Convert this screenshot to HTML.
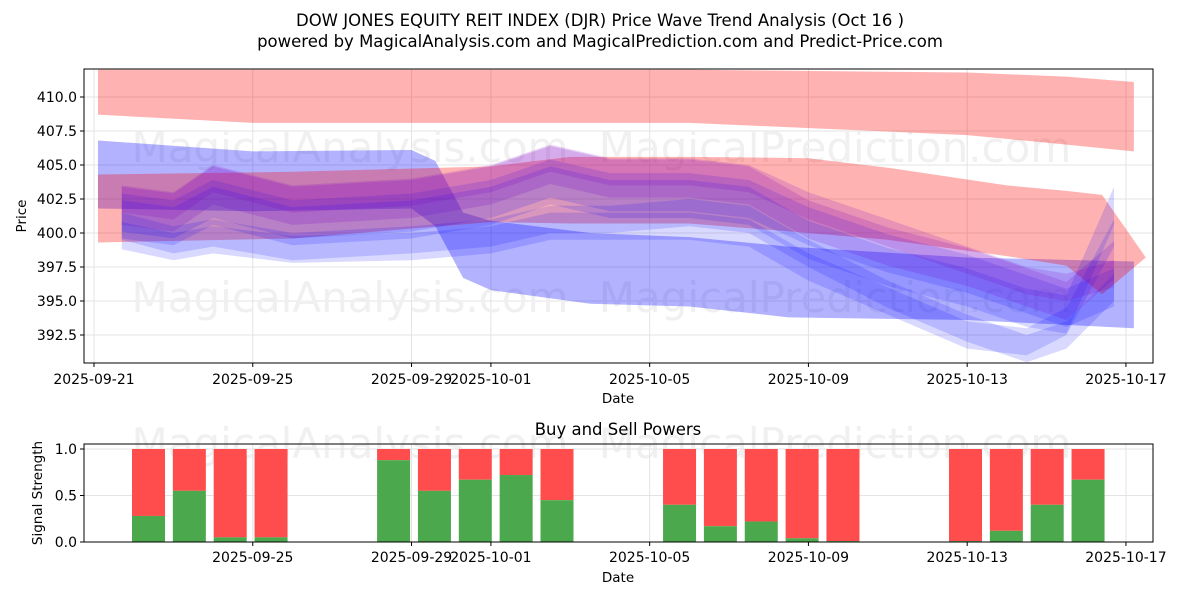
<!DOCTYPE html>
<html><head><meta charset="utf-8"><style>
body{margin:0;background:#fff;font-family:"Liberation Sans","DejaVu Sans",sans-serif}
svg text{font-family:"DejaVu Sans","Liberation Sans",sans-serif}
</style></head><body>
<svg id="c" width="1200" height="600" xmlns="http://www.w3.org/2000/svg">
<text x="600" y="26" text-anchor="middle" font-size="16.5">DOW JONES EQUITY REIT INDEX (DJR) Price Wave Trend Analysis (Oct 16 )</text>
<text x="600" y="47" text-anchor="middle" font-size="16.5">powered by MagicalAnalysis.com and MagicalPrediction.com and Predict-Price.com</text>
<g id="topg"></g><g id="botg"></g>
</svg>
<script>
// ---- data ----
const xTickLabels=["2025-09-21","2025-09-25","2025-09-29","2025-10-01","2025-10-05","2025-10-09","2025-10-13","2025-10-17"];
const xTickDays=[0,4,8,10,14,18,22,26];
const yTicks=[392.5,395,397.5,400,402.5,405,407.5,410];
const bandTopDays=[0.1,4,15,22,24.5,26.2];
const bandTopHi=[412,412,412,411.8,411.5,411.1];
const bandTopLo=[408.7,408.1,408.1,407.2,406.5,406.0];
const bandMidDays=[0.1,5,10,12,15,18,20,23,24.5,25.4,26.5];
const bandMidHi=[404.3,404.5,404.9,405.6,405.6,405.5,404.8,403.5,403.1,402.8,398.2];
const bandMidLo=[399.3,399.6,400.8,400.7,400.7,400.0,399.5,398.3,397.6,395.5,398.2];
const bandBlueDays=[0.1,4,8,8.6,9.3,10,12.5,15,17.5,22,26.2];
const bandBlueHi=[406.8,406.0,406.1,405.3,401.5,400.9,400.0,399.7,399.0,398.2,397.9];
const bandBlueLo=[401.8,401.6,401.8,400.5,396.7,395.8,394.8,394.6,393.8,393.6,393.0];
const ensDays=[0.7,2,3,5,8,10,11.5,13,15,16.5,18,20,22,23.5,24.5,25.7];
const ens1=[401.5,401,402.5,401,401.5,402.5,404,403,403,402.5,400.5,398.5,397,395.5,394.5,396];
const ens2=[400.5,399.5,400,399,399.5,400,401,401,401.5,401,398.5,395.5,393,391.5,392.5,396];
const ens3=[402,401.5,403.5,402,402.5,403.5,405,404,404,403.5,401,399,397.5,396,395,398];
const ens4=[399.8,399,399.5,398.8,399,399.5,400.5,400.5,400.5,400,397.5,395,392.5,392,393.5,400];
const ens5=[401,400.5,402,400.5,401,402,403.5,402.5,402.5,402,399.5,397.5,396,394.5,394,402];
const ens6=[402.5,402,404,402.5,403,404,405.5,404.5,404.5,404,402,400,398,396.5,396,397];
const barSlot=[0,1,2,3,6,7,8,9,10,13,14,15,16,17,20,21,22,23];
const buyVals=[0.28,0.55,0.05,0.05,0.88,0.55,0.67,0.72,0.45,0.40,0.17,0.22,0.04,0.01,0.01,0.12,0.40,0.67];
// ---- scales ----
const X0=84,X1=1153,T0=69,T1=363,B0=444,B1=542;
const xd=d=>94+d*39.69;
const yp=p=>97+(410-p)*13.6;
const yb=v=>542-v*93;
const xs=s=>148.5+s*40.85;
const NS="http://www.w3.org/2000/svg";
function mk(tag,attrs,parent,txt){const e=document.createElementNS(NS,tag);for(const k in attrs)e.setAttribute(k,attrs[k]);if(txt!==undefined)e.textContent=txt;parent.appendChild(e);return e;}
const topG=document.getElementById('topg'),botG=document.getElementById('botg');
yTicks.forEach(t=>{const l=mk('line',{x1:X0,x2:X1,y1:yp(t),y2:yp(t),stroke:'#e3e3e3'},topG);


mk('line',{x1:X0-4,x2:X0,y1:yp(t),y2:yp(t),stroke:'#000'},topG);
const tl=mk('text',{x:X0-7,y:yp(t)+5,'text-anchor':'end','font-size':14},topG,t.toFixed(1));

});
xTickDays.forEach((d,i)=>{const l=mk('line',{x1:xd(d),x2:xd(d),y1:T0,y2:T1,stroke:'#e3e3e3'},topG);


mk('line',{x1:xd(d),x2:xd(d),y1:T1,y2:T1+4,stroke:'#000'},topG);
const tl=mk('text',{x:xd(d),y:T1+21,'text-anchor':'middle','font-size':14},topG,xTickLabels[i]);

});
[[350,162],[835,162],[350,312],[835,312],[350,458],[835,458]].forEach(p=>{const w=mk('text',{x:p[0],y:p[1],'text-anchor':'middle','font-size':42,fill:'#f0f0f0'},p[1]>400?botG:topG,p[0]<600?'MagicalAnalysis.com':'MagicalPrediction.com');

});
const clip=mk('clipPath',{id:'cp'},topG);mk('rect',{x:X0,y:T0,width:X1-X0,height:T1-T0},clip);
const g=mk('g',{'clip-path':'url(#cp)'},topG);
function band(days,hi,lo,fill,op,name){let pts=days.map((d,i)=>xd(d)+','+yp(hi[i]));
for(let i=days.length-1;i>=0;i--)pts.push(xd(days[i])+','+yp(lo[i]));
const p=mk('polygon',{points:pts.join(' '),fill:fill,'fill-opacity':op},g);

}
band(bandTopDays,bandTopHi,bandTopLo,'#ff0000',0.3,'red-upper-band');
band(bandBlueDays,bandBlueHi,bandBlueLo,'#0000ff',0.3,'blue-wave-band');
band(bandMidDays,bandMidHi,bandMidLo,'#ff0000',0.3,'red-middle-band');
const ens=[ens1,ens2,ens3,ens4,ens5,ens6];
ens.forEach((e,k)=>{const hw=k%2?1.0:1.4;band(ensDays,e.map(v=>v+hw),e.map(v=>v-hw),k==2||k==5?'#8000c0':'#0000ff',k==2||k==5?0.18:0.15,'ensemble-band');});
mk('rect',{x:X0,y:T0,width:X1-X0,height:T1-T0,fill:'none',stroke:'#000'},topG);
const yl=mk('text',{x:26,y:216,'text-anchor':'middle','font-size':13.5,transform:'rotate(-90 26 216)'},topG,'Price');


const xl=mk('text',{x:618,y:403,'text-anchor':'middle','font-size':13.5},topG,'Date');


const bt=mk('text',{x:618,y:435,'text-anchor':'middle','font-size':16.5},botG,'Buy and Sell Powers');


[0,0.5,1].forEach(t=>{mk('line',{x1:X0,x2:X1,y1:yb(t),y2:yb(t),stroke:'#e3e3e3'},botG);
mk('line',{x1:X0-4,x2:X0,y1:yb(t),y2:yb(t),stroke:'#000'},botG);
const tl=mk('text',{x:X0-7,y:yb(t)+5,'text-anchor':'end','font-size':14},botG,t.toFixed(1));

});
xTickDays.slice(1).forEach((d,i)=>{mk('line',{x1:xd(d),x2:xd(d),y1:B0,y2:B1,stroke:'#e3e3e3'},botG);
mk('line',{x1:xd(d),x2:xd(d),y1:B1,y2:B1+4,stroke:'#000'},botG);
const tl=mk('text',{x:xd(d),y:B1+20,'text-anchor':'middle','font-size':14},botG,xTickLabels[i+1]);

});
barSlot.forEach((s,i)=>{const cx=xs(s),w=33,v=buyVals[i];
const r=mk('rect',{x:cx-w/2,y:yb(1),width:w,height:yb(v)-yb(1),fill:'#ff4c4c'},botG);


const gr=mk('rect',{x:cx-w/2,y:yb(v),width:w,height:yb(0)-yb(v),fill:'#4ca84c'},botG);

});
mk('rect',{x:X0,y:B0,width:X1-X0,height:B1-B0,fill:'none',stroke:'#000'},botG);
const yl2=mk('text',{x:42,y:493,'text-anchor':'middle','font-size':13.5,transform:'rotate(-90 42 493)'},botG,'Signal Strength');


const xl2=mk('text',{x:618,y:582,'text-anchor':'middle','font-size':13.5},botG,'Date');


</script>
</body></html>
